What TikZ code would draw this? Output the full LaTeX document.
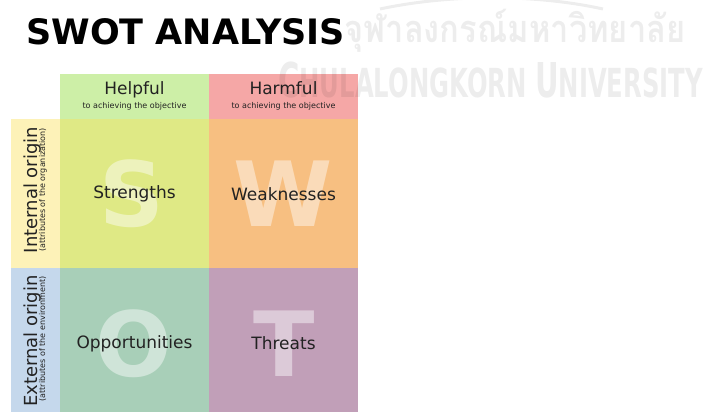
\documentclass[tikz,border=0pt]{standalone}
\usepackage{fontspec}
\setmainfont{DejaVu Sans}
\newfontfamily\thaifont[Script=Thai]{Loma}
\usetikzlibrary{positioning}
\usepackage{xcolor}

\definecolor{helpfulgreen}{HTML}{CDEFA7}
\definecolor{harmfulred}{HTML}{F5A7A6}
\definecolor{strengthgreen}{HTML}{DFE985}
\definecolor{weakorange}{HTML}{F7BF81}
\definecolor{opportgreen}{HTML}{A8CFB8}
\definecolor{threatmauve}{HTML}{C19FB8}
\definecolor{internalyellow}{HTML}{FDF2B8}
\definecolor{externalblue}{HTML}{C5D8EC}
\definecolor{labelgray}{HTML}{222222}

\begin{document}
\begin{tikzpicture}[
    x=1pt, y=-1pt,
    every node/.style={inner sep=0pt, text=labelgray},
    cell/.style={minimum width=149pt, minimum height=149pt, anchor=north west},
    headcell/.style={minimum width=149pt, minimum height=45pt, anchor=north west},
    sidecell/.style={minimum width=49pt, minimum height=149pt, anchor=north west},
    bigletter/.style={text=white, text opacity=0.45, font=\bfseries\fontsize{90}{90}\selectfont},
    cellname/.style={anchor=base, font=\fontsize{17}{17}\selectfont},
    headname/.style={anchor=base, font=\fontsize{17}{17}\selectfont},
    smallnote/.style={anchor=base, font=\fontsize{8}{8}\selectfont},
    sidename/.style={anchor=base, rotate=90, font=\fontsize{18}{18}\selectfont},
    watermark/.style={text=black, text opacity=0.07}
]
\useasboundingbox (0,0) rectangle (704,412);

% title
\node[anchor=base west, font=\bfseries\fontsize{35}{35}\selectfont, text=black] (title) at (26,45) {SWOT ANALYSIS};

% header row
\node[headcell, fill=helpfulgreen] (helpful) at (60,74) {};
\node[headcell, fill=harmfulred] (harmful) at (209,74) {};
\node[headname] (helpfultxt) at (134.5,95) {Helpful};
\node[smallnote] (helpfulnote) at (134.5,108) {to achieving the objective};
\node[headname] (harmfultxt) at (283.5,95) {Harmful};
\node[smallnote] (harmfulnote) at (283.5,108) {to achieving the objective};

% side column
\node[sidecell, fill=internalyellow] (internal) at (11,119) {};
\node[sidecell, fill=externalblue] (external) at (11,268) {};
\node[sidename] (internaltxt) at (37,190) {Internal origin};
\node[smallnote, rotate=90] (internalnote) at (45,190) {(attributes of the organization)};
\node[sidename] (externaltxt) at (37,341) {External origin};
\node[smallnote, rotate=90] (externalnote) at (45,339) {(attributes of the environment)};

% quadrants
\node[cell, fill=strengthgreen] (strengths) at (60,119) {};
\node[cell, fill=weakorange] (weaknesses) at (209,119) {};
\node[cell, fill=opportgreen] (opportunities) at (60,268) {};
\node[cell, fill=threatmauve] (threats) at (209,268) {};

\node[bigletter] (bigs) at (132,194) {S};
\node[bigletter] (bigw) at (283,194) {W};
\node[bigletter] (bigo) at (134,344) {O};
\node[bigletter] (bigt) at (284,344) {T};

\node[cellname] (strengthstxt) at (134.5,198) {Strengths};
\node[cellname] (weaknessestxt) at (283.5,200) {Weaknesses};
\node[cellname] (opportunitiestxt) at (134.5,348) {Opportunities};
\node[cellname] (threatstxt) at (283.5,349) {Threats};

% faint watermark
\draw[black, opacity=0.07, line width=3pt] (380,9) .. controls (450,-6) and (535,-6) .. (603,9);
\node[watermark, anchor=base west, xscale=0.86, font=\thaifont\bfseries\fontsize{38}{38}\selectfont] (thaimark) at (344,43) {จุฬาลงกรณ์มหาวิทยาลัย};
\node[watermark, anchor=base west, xscale=0.607, font=\bfseries\fontsize{40}{40}\selectfont] (unimark) at (278,97)
    {{\fontsize{48}{48}\selectfont C}HULALONGKORN {\fontsize{48}{48}\selectfont U}NIVERSITY};
\end{tikzpicture}
\end{document}
